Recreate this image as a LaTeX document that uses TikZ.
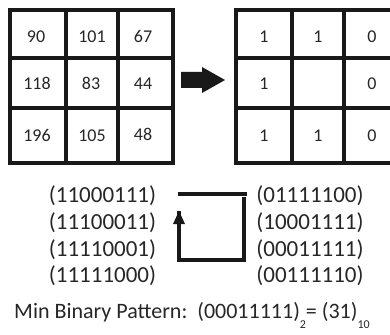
\documentclass[tikz,border=0pt]{standalone}
\usepackage{fontspec}
\setmainfont{Carlito}
\usetikzlibrary{arrows.meta}
\tikzset{
  gridline/.style={line width=3.4pt, black!90},
  cellnum/.style={anchor=base, inner sep=0pt, font=\fontsize{18}{18}\selectfont, text=black!85},
  bintext/.style={anchor=base, inner sep=0pt, font=\fontsize{23}{23}\selectfont, text=black!85},
  loopline/.style={line width=3.3pt, black!90},
}
\newcommand{\lowsub}[1]{\raisebox{-10pt}{\fontsize{12}{12}\selectfont #1}}
\begin{document}
\begin{tikzpicture}[x=1pt,y=1pt]
\useasboundingbox (0,0) rectangle (390,-334);
\clip (0,0) rectangle (390,-334);

% grey-level input neighbourhood
\draw[gridline] (10,-10) rectangle (173,-163);
\draw[gridline] (66,-10) -- (66,-163) (118,-10) -- (118,-163);
\draw[gridline] (10,-58) -- (173,-58) (10,-108) -- (173,-108);
\node[cellnum] (a11) at (36,-43) {90};
\node[cellnum] (a12) at (92,-43) {101};
\node[cellnum] (a13) at (143,-43) {67};
\node[cellnum] (a21) at (37,-90) {118};
\node[cellnum] (a22) at (91,-90) {83};
\node[cellnum] (a23) at (143,-90) {44};
\node[cellnum] (a31) at (37,-141) {196};
\node[cellnum] (a32) at (92,-141) {105};
\node[cellnum] (a33) at (143,-140) {48};

% thresholded neighbourhood
\draw[gridline] (236,-10) rectangle (399,-163);
\draw[gridline] (292,-10) -- (292,-163) (344,-10) -- (344,-163);
\draw[gridline] (236,-58) -- (399,-58) (236,-108) -- (399,-108);
\node[cellnum] (b11) at (264,-43) {1};
\node[cellnum] (b12) at (318,-43) {1};
\node[cellnum] (b13) at (372,-43) {0};
\node[cellnum] (b21) at (264,-90) {1};
\node[cellnum] (b23) at (372,-90) {0};
\node[cellnum] (b31) at (264,-141) {1};
\node[cellnum] (b32) at (318,-141) {1};
\node[cellnum] (b33) at (372,-141) {0};

% block arrow between the two grids
\fill[black!90] (181,-72) -- (202,-72) -- (202,-67) -- (225,-80)
  -- (202,-93) -- (202,-88) -- (181,-88) -- cycle;

% rotations of the binary code
\node[bintext] (l1) at (102.5,-202.7) {(11000111)};
\node[bintext] (l2) at (102.5,-229.5) {(11100011)};
\node[bintext] (l3) at (102.5,-256) {(11110001)};
\node[bintext] (l4) at (102.5,-282) {(11111000)};
\node[bintext] (r1) at (310,-202.7) {(01111100)};
\node[bintext] (r2) at (310,-229.5) {(10001111)};
\node[bintext] (r3) at (310,-256) {(00011111)};
\node[bintext] (r4) at (310,-282) {(00111110)};

% rotation loop
\coordinate (ltop) at (178,-194);
\coordinate (rtop) at (247,-194);
\coordinate (rdown) at (244,-197);
\coordinate (rbot) at (244,-260);
\coordinate (lbot) at (179,-260);
\coordinate (ltip) at (179,-211);
\draw[loopline] (ltop) -- (rtop);
\draw[loopline] (rdown) -- (rbot) -- (lbot)
  -- (ltip);
\fill[black!90] (179,-211) -- (173,-224) -- (185,-224) -- cycle;

% result
\node[bintext, anchor=base west, font=\fontsize{22}{22}\selectfont] (res) at (14,-318)
  {Min Binary Pattern:\ \ (00011111)\lowsub{2}= (31)\lowsub{10}};
\end{tikzpicture}
\end{document}
